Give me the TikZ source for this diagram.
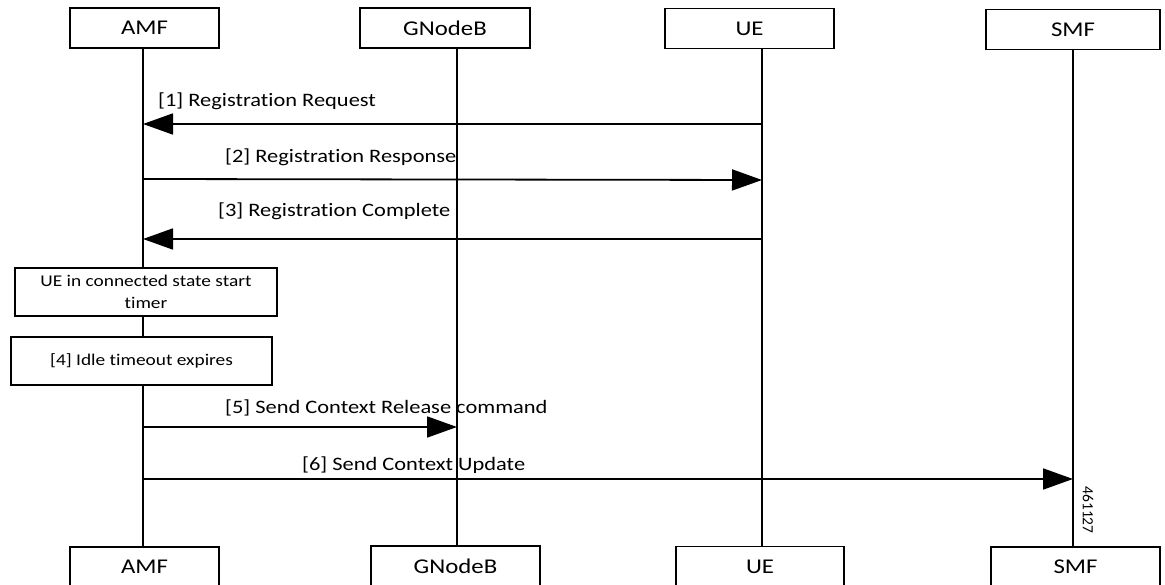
\documentclass[tikz,border=0pt]{standalone}
\usepackage{fontspec}
\setmainfont{Carlito}[FakeStretch=1.18,Ligatures=NoCommon]
\newfontfamily\plainfont{Carlito}
\usetikzlibrary{arrows.meta}
\begin{document}
\begin{tikzpicture}[x=1pt,y=-1pt,
  actor/.style={draw,line width=1.4pt,fill=white,minimum height=40pt,inner sep=0pt,font=\fontsize{21}{25}\selectfont},
  life/.style={line width=1.5pt},
  msg/.style={line width=1.8pt,-{Triangle[length=30pt,width=21pt]}},
  lbl/.style={anchor=west,inner sep=0pt,font=\fontsize{19}{22}\selectfont},
  statebox/.style={draw,line width=1.4pt,fill=white,inner sep=0pt,align=center,font=\fontsize{16.4}{22}\selectfont}
]
\useasboundingbox (0,0) rectangle (1165,585);
% lifeline x positions
\coordinate (aL) at (143,0);
\coordinate (gL) at (457,0);
\coordinate (uL) at (762,0);
\coordinate (sL) at (1073,0);
% actor boxes
\node[actor,minimum width=149pt] (aT) at (144.5,28) {AMF};
\node[actor,minimum width=170pt] (gT) at (445,28) {GNodeB};
\node[actor,minimum width=169pt] (uT) at (749.5,28.5) {UE};
\node[actor,minimum width=174pt] (sT) at (1073,29.5) {SMF};
\node[actor,minimum width=149pt] (aB) at (144.5,567) {AMF};
\node[actor,minimum width=169pt] (gB) at (455.5,566) {GNodeB};
\node[actor,minimum width=168pt] (uB) at (760,566.5) {UE};
\node[actor,minimum width=169pt] (sB) at (1075.5,567) {SMF};
% lifelines
\draw[life] (aT.south -| aL) -- (aB.north -| aL);
\draw[life] (gT.south -| gL) -- (gB.north -| gL);
\draw[life] (uT.south -| uL) -- (uB.north -| uL);
\draw[life] (sT.south -| sL) -- (sB.north -| sL);
% state boxes
\node[statebox,minimum width=262pt,minimum height=48pt] (s1) at (146,292) {UE in connected state start\\timer};
\node[statebox,minimum width=261pt,minimum height=48pt] (s2) at (141.5,361) {[4] Idle timeout expires};
% messages
\coordinate (m1a) at (762,124); \coordinate (m1b) at (143,124);
\coordinate (m2a) at (143,179); \coordinate (m2b) at (762,180);
\coordinate (m3a) at (762,239); \coordinate (m3b) at (143,239);
\coordinate (m5a) at (143,427); \coordinate (m5b) at (457,427);
\coordinate (m6a) at (143,479); \coordinate (m6b) at (1073,479);
\draw[msg] (m1a) -- (m1b);
\draw[msg] (m2a) -- (m2b);
\draw[msg] (m3a) -- (m3b);
\draw[msg] (m5a) -- (m5b);
\draw[msg] (m6a) -- (m6b);
\node[lbl] (l1) at (158,101) {[1] Registration Request};
\node[lbl] (l2) at (225,157) {[2] Registration Response};
\node[lbl] (l3) at (218,211) {[3] Registration Complete};
\node[lbl] (l5) at (225,408) {[5] Send Context Release command};
\node[lbl] (l6) at (302,465) {[6] Send Context Update};
\node[rotate=-90,inner sep=0pt,font=\plainfont\fontsize{15.5}{15.5}\selectfont] (id) at (1088,510) {461127};
\end{tikzpicture}
\end{document}
